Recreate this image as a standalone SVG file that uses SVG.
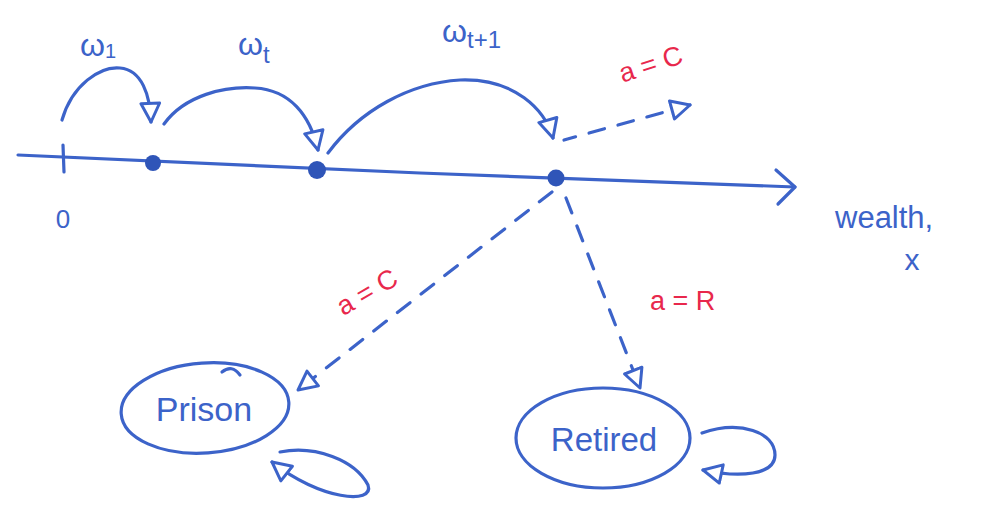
<svg xmlns="http://www.w3.org/2000/svg" width="1002" height="518" viewBox="0 0 1002 518">
  <style>
    .ink { fill: none; stroke: #3c63c9; stroke-width: 3.2; stroke-linecap: round; stroke-linejoin: round; }
    .dash { stroke-dasharray: 16 14; }
    .dot { fill: #2f55b8; }
    .lbl { font-family: "Liberation Sans", "DejaVu Sans", sans-serif; fill: #3c63c9; }
    .act { font-family: "Liberation Sans", "DejaVu Sans", sans-serif; fill: #e8284c; font-size: 27px; }
  </style>
  <defs>
    <marker id="tri" viewBox="0 0 12 12" refX="11" refY="6" markerWidth="7" markerHeight="7" markerUnits="strokeWidth" orient="auto">
      <path d="M1,1 L11,6 L1,11 Z" fill="#fff" stroke="#3c63c9" stroke-width="1.6" stroke-linejoin="round"/>
    </marker>
  </defs>
  <rect width="1002" height="518" fill="#fff"/>

  <!-- wealth axis -->
  <g id="axis">
    <path class="ink" d="M18,155 L420,173 L795,187"/>
    <path class="ink" d="M776,170 L795,187 L778,204"/>
    <path class="ink" d="M63,145 L64,172"/>
    <text class="lbl" x="63" y="228" font-size="26" text-anchor="middle">0</text>
    <text class="lbl" x="835" y="228" font-size="31">wealth,</text>
    <text class="lbl" x="912" y="270" font-size="30" text-anchor="middle">x</text>
  </g>

  <g id="w1"><circle class="dot" cx="153" cy="163" r="8"/></g>
  <g id="wt"><circle class="dot" cx="317" cy="170" r="9"/></g>
  <g id="wt1"><circle class="dot" cx="556" cy="178" r="8.5"/></g>

  <g id="prison">
    <ellipse class="ink" cx="205" cy="408" rx="84" ry="45" transform="rotate(-4 205 408)"/>
    <path class="ink" d="M222,372 Q232,364 240,375"/>
    <text class="lbl" x="204" y="421" font-size="34" text-anchor="middle">Prison</text>
  </g>

  <g id="retired">
    <ellipse class="ink" cx="603" cy="438" rx="87" ry="50"/>
    <text class="lbl" x="604" y="451" font-size="33" text-anchor="middle">Retired</text>
  </g>

  <g id="connectors">
    <!-- wealth draws -->
    <path class="ink" d="M62,120 C72,85 100,66 120,68 C142,70 150,95 151,122" marker-end="url(#tri)"/>
    <text class="lbl" x="80" y="56" font-size="32">ω<tspan font-size="20" dy="2">1</tspan></text>
    <path class="ink" d="M164,124 C185,95 225,86 255,88 C290,90 310,115 318,150" marker-end="url(#tri)"/>
    <text class="lbl" x="238" y="55" font-size="32">ω<tspan font-size="24" dy="8">t</tspan></text>
    <path class="ink" d="M328,153 C360,110 410,83 460,80 C515,78 545,110 553,138" marker-end="url(#tri)"/>
    <text class="lbl" x="442" y="42" font-size="32">ω<tspan font-size="24" dy="6">t+1</tspan></text>

    <!-- actions -->
    <path class="ink dash" d="M564,140 L690,105" marker-end="url(#tri)" stroke-dashoffset="4"/>
    <text class="act" x="618" y="75" transform="rotate(-18 645 65)">a = C</text>

    <path class="ink dash" d="M552,192 L298,390" marker-end="url(#tri)"/>
    <text class="act" x="335" y="305" transform="rotate(-30 360 295)">a = C</text>

    <path class="ink dash" d="M566,198 L640,388" marker-end="url(#tri)"/>
    <text class="act" x="650" y="310">a = R</text>

    <!-- self loops -->
    <path class="ink" d="M280,452 C315,445 355,460 368,485 C375,505 320,500 272,462" marker-end="url(#tri)"/>
    <path class="ink" d="M702,433 C740,420 775,432 775,455 C775,475 740,478 703,470" marker-end="url(#tri)"/>
  </g>
</svg>
